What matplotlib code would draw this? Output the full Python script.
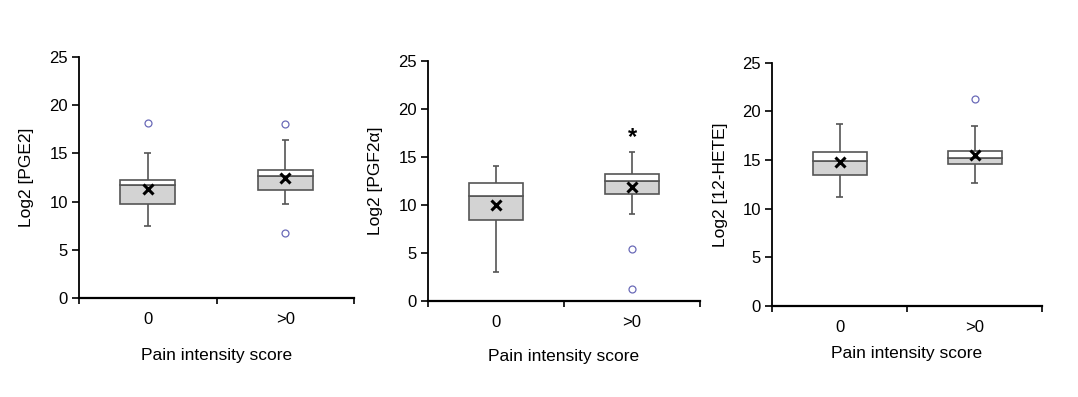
import numpy as np
import matplotlib
matplotlib.use("Agg")
import matplotlib.pyplot as plt

plt.rcParams['font.family'] = ['Liberation Sans', 'DejaVu Sans']

categories = ["0", ">0"]

# PGE2
pge2_low = [7.5, 9.7]
pge2_q1 = [9.7, 11.2]
pge2_med = [11.7, 12.7]
pge2_q3 = [12.25, 13.3]
pge2_high = [15.0, 16.4]
pge2_mean = [11.3, 12.4]
pge2_out = [[18.2], [18.1, 6.7]]

# PGF2a
pgf2a_low = [3.0, 9.05]
pgf2a_q1 = [8.4, 11.1]
pgf2a_med = [10.9, 12.5]
pgf2a_q3 = [12.3, 13.2]
pgf2a_high = [14.0, 15.45]
pgf2a_mean = [10.0, 11.85]
pgf2a_out = [[], [5.4, 1.2]]

# 12-HETE
hete_low = [11.2, 12.6]
hete_q1 = [13.5, 14.6]
hete_med = [14.9, 15.2]
hete_q3 = [15.8, 15.95]
hete_high = [18.7, 18.5]
hete_mean = [14.75, 15.5]
hete_out = [[], [21.3]]

panels = [
    ("Log2 [PGE2]", pge2_low, pge2_q1, pge2_med, pge2_q3, pge2_high, pge2_mean, pge2_out),
    ("Log2 [PGF2α]", pgf2a_low, pgf2a_q1, pgf2a_med, pgf2a_q3, pgf2a_high, pgf2a_mean, pgf2a_out),
    ("Log2 [12-HETE]", hete_low, hete_q1, hete_med, hete_q3, hete_high, hete_mean, hete_out),
]

W, H = 1078, 397
# axes boxes in pixels: left, right, top, bottom
boxes_px = [(79, 354, 57, 298), (428, 700, 60.7, 300.7), (772, 1042, 62.7, 306)]
ylabel_x = [34, 383, 728]
xlabel_pad = [15, 14, 8]

fig = plt.figure(figsize=(W / 100, H / 100), dpi=100)
fs = 12.5
tfs = 12
edge = "#555555"

for i, (ylab, lo, q1, med, q3, hi, mean, outs) in enumerate(panels):
    l, r, t, b = boxes_px[i]
    ax = fig.add_axes([l / W, 1 - b / H, (r - l) / W, (b - t) / H])
    x = np.arange(len(categories)) + 0.5
    q1 = np.array(q1); med = np.array(med); q3 = np.array(q3)

    ax.vlines(x, lo, q1, color=edge, lw=1.2, zorder=1)
    ax.vlines(x, q3, hi, color=edge, lw=1.2, zorder=1)
    ax.hlines(lo, x - 0.025, x + 0.025, color=edge, lw=1.2)
    ax.hlines(hi, x - 0.025, x + 0.025, color=edge, lw=1.2)
    ax.bar(x, med - q1, 0.4, bottom=q1, color="#d3d3d3", edgecolor=edge, lw=1.2, zorder=2)
    ax.bar(x, q3 - med, 0.4, bottom=med, color="white", edgecolor=edge, lw=1.2, zorder=2)
    ax.plot(x, mean, ls="none", marker="x", color="black", ms=7.5, mew=2.2, zorder=4)
    for xi, o in zip(x, outs):
        if o:
            ax.plot([xi] * len(o), o, ls="none", marker="o", ms=5, mfc="white",
                    mec="#6a6ab8", mew=0.9, zorder=3)
    if i == 1:
        ax.text(x[1], 17.0, "*", ha="center", va="center", fontsize=17, fontweight="bold")

    ax.set_xlim(0, 2)
    ax.set_ylim(0, 25)
    ax.set_yticks(np.arange(0, 26, 5))
    ax.set_xticks([0, 1, 2])
    ax.set_xticklabels([])
    ax.set_xticks(x, minor=True)
    ax.set_xticklabels(categories, minor=True)
    ax.tick_params(axis="x", which="minor", length=0, pad=10, labelsize=tfs)
    ax.tick_params(axis="x", which="major", length=4, width=1.2, direction="out")
    ax.tick_params(axis="y", length=5, width=1.2, direction="out", labelsize=tfs, pad=3)
    for s in ("top", "right"):
        ax.spines[s].set_visible(False)
    ax.spines["left"].set_linewidth(1.3)
    ax.spines["bottom"].set_linewidth(1.6)
    ax.set_ylabel(ylab, fontsize=fs)
    ax.yaxis.set_label_coords((ylabel_x[i] - l) / (r - l), 0.5)
    ax.set_xlabel("Pain intensity score", fontsize=fs, labelpad=xlabel_pad[i])

fig.savefig("out.png", dpi=100, facecolor="white")
